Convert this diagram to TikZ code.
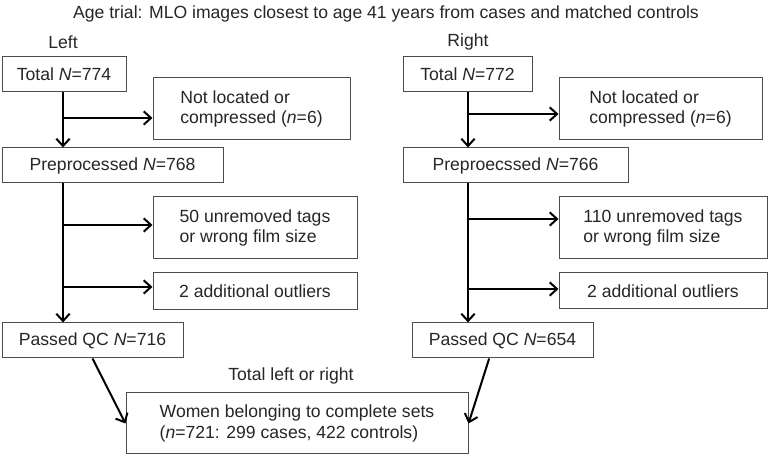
\documentclass[tikz,border=0pt]{standalone}
\usepackage{fontspec}
\setmainfont{Liberation Sans}
\usetikzlibrary{arrows.meta}

\begin{document}
\begin{tikzpicture}[x=0.75pt, y=-0.75pt, >={Straight Barb[length=5.5pt,width=10pt]},
    txt/.style={font=\fontsize{13.2}{15.5}\selectfont, text=black!85, inner sep=0pt},
    box/.style={txt, draw=black!70, line width=0.75pt, align=left},
    flow/.style={->, line width=1.5pt}]
    \useasboundingbox (0,0) rectangle (769,456);

    % Headings
    \node[txt] (title) at (386,14) {Age trial: MLO images closest to age 41 years from cases and matched controls};
    \node[txt] (headL) at (63,42) {Left};
    \node[txt] (headR) at (468,42) {Right};

    % Left column
    \node[box, minimum width=93pt, minimum height=26.25pt] (totL) at (64,74.5) {Total \textit{N}=774};
    \node[box, minimum width=147.75pt, minimum height=46.5pt] (nlocL) at (251.5,109) {Not located or\\compressed (\textit{n}=6)};
    \node[box, minimum width=165.75pt, minimum height=26.25pt] (preL) at (112.5,165.5) {Preprocessed \textit{N}=768};
    \node[box, minimum width=153pt, minimum height=46.5pt] (tagsL) at (255,228) {50 unremoved tags\\or wrong film size};
    \node[box, minimum width=153pt, minimum height=27.75pt] (outL) at (255,291.5) {2 additional outliers};
    \node[box, minimum width=135.75pt, minimum height=26.25pt] (qcL) at (92.5,340.5) {Passed QC \textit{N}=716};

    % Right column
    \node[box, minimum width=96.75pt, minimum height=26.25pt] (totR) at (467.5,74.5) {Total \textit{N}=772};
    \node[box, minimum width=152.25pt, minimum height=46.5pt] (nlocR) at (660.5,109) {Not located or\\compressed (\textit{n}=6)};
    \node[box, minimum width=168.75pt, minimum height=26.25pt] (preR) at (515.5,165.5) {Preproecssed \textit{N}=766};
    \node[box, minimum width=156pt, minimum height=46.5pt] (tagsR) at (663,228) {110 unremoved tags\\or wrong film size};
    \node[box, minimum width=156pt, minimum height=27pt] (outR) at (663,291) {2 additional outliers};
    \node[box, minimum width=135.75pt, minimum height=26.25pt] (qcR) at (502.5,340.5) {Passed QC \textit{N}=654};

    % Combined
    \node[txt] (comb) at (291,376) {Total left or right};
    \node[box, minimum width=256.5pt, minimum height=45.75pt] (women) at (297,423.5) {Women belonging to complete sets\\(\textit{n}=721: 299 cases, 422 controls)};

    % Spines and branch points
    \coordinate (spL) at (63,0);
    \coordinate (spR) at (468,0);
    \coordinate (hL1) at ([yshift=-6.75pt]nlocL.west);
    \coordinate (hL2) at ([yshift=2.25pt]tagsL.west);
    \coordinate (hL3) at ([yshift=3.4pt]outL.west);
    \coordinate (hR1) at ([yshift=-3.75pt]nlocR.west);
    \coordinate (hR2) at ([yshift=6.75pt]tagsR.west);
    \coordinate (hR3) at ([yshift=1.5pt]outR.west);

    % Left arrows
    \draw[flow] (totL.south -| spL) -- (preL.north -| spL);
    \draw[flow] (spL |- hL1) -- (hL1);
    \draw[flow] (preL.south -| spL) -- (qcL.north -| spL);
    \draw[flow] (spL |- hL2) -- (hL2);
    \draw[flow] (spL |- hL3) -- (hL3);

    % Right arrows
    \draw[flow] (totR.south -| spR) -- (preR.north -| spR);
    \draw[flow] (spR |- hR1) -- (hR1);
    \draw[flow] (preR.south -| spR) -- (qcR.north -| spR);
    \draw[flow] (spR |- hR2) -- (hR2);
    \draw[flow] (spR |- hR3) -- (hR3);

    % Into the combined box
    \draw[flow] (qcL.south) -- (women.west);
    \draw[flow] ([xshift=-10pt]qcR.south) -- (women.east);
\end{tikzpicture}
\end{document}
